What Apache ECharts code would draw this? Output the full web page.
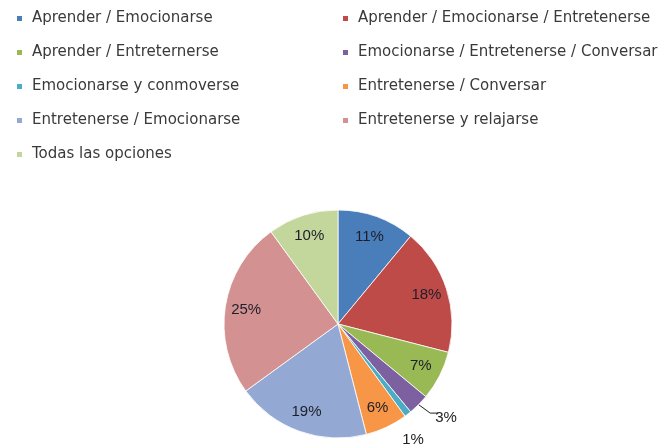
<!DOCTYPE html>
<html>
<head>
<meta charset="utf-8">
<script src="https://cdn.jsdelivr.net/npm/echarts@6/dist/echarts.min.js"></script>
<style>
  html, body { margin: 0; padding: 0; background: #fff; }
  #chart { width: 662px; height: 448px; }
</style>
</head>
<body>
<div id="chart"></div>
<script>
// Categories in the order they are drawn clockwise from 12 o'clock
const categories = [
  'Aprender / Emocionarse',
  'Aprender / Emocionarse / Entretenerse',
  'Aprender / Entreternerse',
  'Emocionarse / Entretenerse / Conversar',
  'Emocionarse y conmoverse',
  'Entretenerse / Conversar',
  'Entretenerse / Emocionarse',
  'Entretenerse y relajarse',
  'Todas las opciones'
];
// Share of answers, in percent
const shares = [11, 18, 7, 3, 1, 6, 19, 25, 10];
const sliceColors = [
  '#4a7ebb', '#be4b48', '#98b954', '#7d60a0', '#4bacc6',
  '#f79646', '#93a9d4', '#d39291', '#c3d69b'
];
// Slices too thin to hold their own label get it outside
const smallSlices = ['Emocionarse / Entretenerse / Conversar', 'Emocionarse y conmoverse'];

const leftLegend = categories.filter((_, i) => i % 2 === 0);
const rightLegend = categories.filter((_, i) => i % 2 === 1);

const LEGEND_FONT = 'DejaVu Sans';
const LABEL_FONT = 'Liberation Sans';
const legendCommon = {
  orient: 'vertical',
  top: 6,
  icon: 'rect',
  itemWidth: 7,
  itemHeight: 7,
  itemGap: 19,
  selectedMode: false,
  textStyle: { fontFamily: LEGEND_FONT, fontSize: 15, color: '#3a3a3a', padding: [0, 0, 0, 4] }
};

const center = [338, 324];
const outerR = 114;

const chart = echarts.init(document.getElementById('chart'), null, { renderer: 'canvas' });
chart.setOption({
  backgroundColor: '#ffffff',
  animation: false,
  legend: [
    Object.assign({}, legendCommon, { left: 10, data: leftLegend }),
    Object.assign({}, legendCommon, { left: 336, data: rightLegend })
  ],
  series: [
    {
      type: 'pie',
      center: center,
      radius: [0, outerR],
      startAngle: 90,
      clockwise: true,
      silent: true,
      itemStyle: { borderColor: '#ffffff', borderWidth: 0.8 },
      // nudge the two outside labels: 3% drops a little, 1% sits under its sliver
      labelLayout: function (params) {
        if (params.dataIndex === 3) {
          return { dx: -8, dy: 5 };
        }
        if (params.dataIndex === 4) {
          return { dx: -26, dy: 10 };
        }
        return {};
      },
      data: categories.map((name, i) => {
        const small = smallSlices.includes(name);
        return {
          name: name,
          value: shares[i],
          itemStyle: { color: sliceColors[i] },
          label: {
            show: small,
            position: 'outside',
            formatter: '{c}%',
            fontFamily: LABEL_FONT,
            fontSize: 15,
            color: '#222'
          },
          labelLine: {
            show: small && i === 3,
            length: 12,
            length2: 8,
            lineStyle: { color: '#222', width: 1 }
          }
        };
      })
    },
    {
      // transparent ring that only carries the in-slice percentage labels
      type: 'pie',
      center: center,
      radius: [66, outerR],
      startAngle: 90,
      clockwise: true,
      silent: true,
      itemStyle: { color: 'rgba(0,0,0,0)' },
      label: {
        position: 'inside',
        formatter: '{c}%',
        fontFamily: LABEL_FONT,
        fontSize: 15,
        color: '#1e1e2a'
      },
      data: categories.map((name, i) => ({
        name: name,
        value: shares[i],
        label: { show: !smallSlices.includes(name) }
      }))
    }
  ]
});
</script>
</body>
</html>
